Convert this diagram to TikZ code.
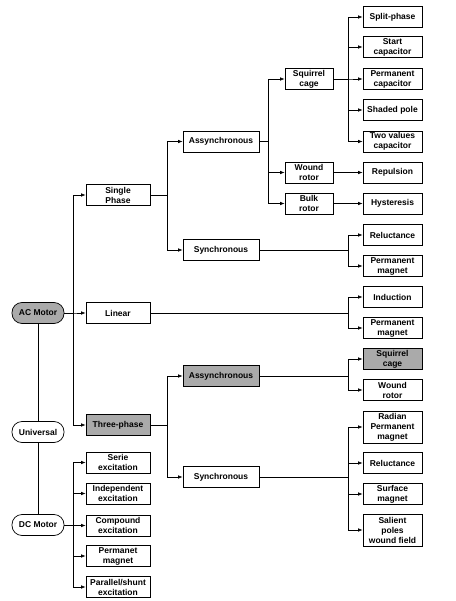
\documentclass[tikz,border=0pt]{standalone}
\usepackage{fontspec}
\setmainfont{Liberation Sans}
\usetikzlibrary{arrows.meta}
\definecolor{hlgray}{RGB}{170,170,170}
\tikzset{
  box/.style={draw, rectangle, align=center, inner sep=1pt, minimum height=21pt,
    line width=0.7pt, font=\bfseries\fontsize{8.5}{10}\selectfont},
  motor/.style={box, rounded corners=10pt, minimum width=52pt},
  colA/.style={box, minimum width=64pt},
  colB/.style={box, minimum width=76pt},
  colC/.style={box, minimum width=48pt},
  colD/.style={box, minimum width=59pt},
  hl/.style={fill=hlgray},
  elbow/.style={to path={-- ++(#1,0) |- (\tikztotarget)}},
}
\begin{document}
\begin{tikzpicture}[x=1pt,y=-1pt]
      \useasboundingbox (0,0) rectangle (455,601);
      \path
        (38,313) node[motor,hl] (ac){AC Motor}
        (38,432) node[motor] (univ){Universal}
        (38,525) node[motor] (dc){DC Motor}
        (118,195) node[colA] (single){Single\\Phase}
        (118,313) node[colA] (linear){Linear}
        (118,425) node[colA,hl] (three){Three-phase}
        (118,462.5) node[colA] (serie){Serie\\excitation}
        (118,493.5) node[colA] (indep){Independent\\excitation}
        (118,525.5) node[colA] (compound){Compound\\excitation}
        (118,556) node[colA] (permanet){Permanet\\magnet}
        (118,587) node[colA] (parallel){Parallel/shunt\\excitation}
        (221,141.5) node[colB] (asyA){Assynchronous}
        (221,250) node[colB] (synA){Synchronous}
        (221,376) node[colB,hl] (asyB){Assynchronous}
        (221,477) node[colB] (synB){Synchronous}
        (309,79) node[colC] (sqcA){Squirrel\\cage}
        (309,172.5) node[colC] (woundA){Wound\\rotor}
        (309,203.5) node[colC] (bulk){Bulk\\rotor}
        (392.5,17) node[colD] (split){Split-phase}
        (392.5,47) node[colD] (start){Start\\capacitor}
        (392.5,79) node[colD] (permcap){Permanent\\capacitor}
        (392.5,110) node[colD] (shaded){Shaded pole}
        (392.5,141.5) node[colD] (twoval){Two values\\capacitor}
        (392.5,172.5) node[colD] (repul){Repulsion}
        (392.5,203.5) node[colD] (hyst){Hysteresis}
        (392.5,235) node[colD] (relA){Reluctance}
        (392.5,266) node[colD] (pmA){Permanent\\magnet}
        (392.5,297) node[colD] (induct){Induction}
        (392.5,328) node[colD] (pmB){Permanent\\magnet}
        (392.5,359) node[colD,hl] (sqcB){Squirrel\\cage}
        (392.5,390) node[colD] (woundB){Wound\\rotor}
        (392.5,427) node[colD,minimum height=32pt] (radian){Radian\\Permanent\\magnet}
        (392.5,463) node[colD] (relB){Reluctance}
        (392.5,494) node[colD] (surface){Surface\\magnet}
        (392.5,530) node[colD,minimum height=32pt] (salient){Salient\\poles\\wound field};
      \begin{scope}[line width=0.6pt]
        \draw (ac) -- (univ);
        \draw (univ) -- (dc);
      \end{scope}
      \begin{scope}[line width=0.6pt, -{Latex[length=4.5pt,width=3.5pt]}]
        \draw (ac.east) to[elbow=9] (single.west);
        \draw (ac.east) to[elbow=9] (linear.west);
        \draw (ac.east) to[elbow=9] (three.west);
        \draw (dc.east) to[elbow=9] (serie.west);
        \draw (dc.east) to[elbow=9] (indep.west);
        \draw (dc.east) to[elbow=9] (compound.west);
        \draw (dc.east) to[elbow=9] (permanet.west);
        \draw (dc.east) to[elbow=9] (parallel.west);
        \draw (single.east) to[elbow=17] (asyA.west);
        \draw (single.east) to[elbow=17] (synA.west);
        \draw (three.east) to[elbow=17] (asyB.west);
        \draw (three.east) to[elbow=17] (synB.west);
        \draw (asyA.east) to[elbow=9] (sqcA.west);
        \draw (asyA.east) to[elbow=9] (woundA.west);
        \draw (asyA.east) to[elbow=9] (bulk.west);
        \draw (sqcA.east) to[elbow=15] (split.west);
        \draw (sqcA.east) to[elbow=15] (start.west);
        \draw (sqcA.east) to[elbow=15] (permcap.west);
        \draw (sqcA.east) to[elbow=15] (shaded.west);
        \draw (sqcA.east) to[elbow=15] (twoval.west);
        \draw (woundA) to (repul);
        \draw (bulk) to (hyst);
        \draw (synA.east) to[elbow=89] (relA.west);
        \draw (synA.east) to[elbow=89] (pmA.west);
        \draw (linear.east) to[elbow=198] (induct.west);
        \draw (linear.east) to[elbow=198] (pmB.west);
        \draw (asyB.east) to[elbow=89] (sqcB.west);
        \draw (asyB.east) to[elbow=89] (woundB.west);
        \draw (synB.east) to[elbow=89] (radian.west);
        \draw (synB.east) to[elbow=89] (relB.west);
        \draw (synB.east) to[elbow=89] (surface.west);
        \draw (synB.east) to[elbow=89] (salient.west);
      \end{scope}
    \end{tikzpicture}
\end{document}
